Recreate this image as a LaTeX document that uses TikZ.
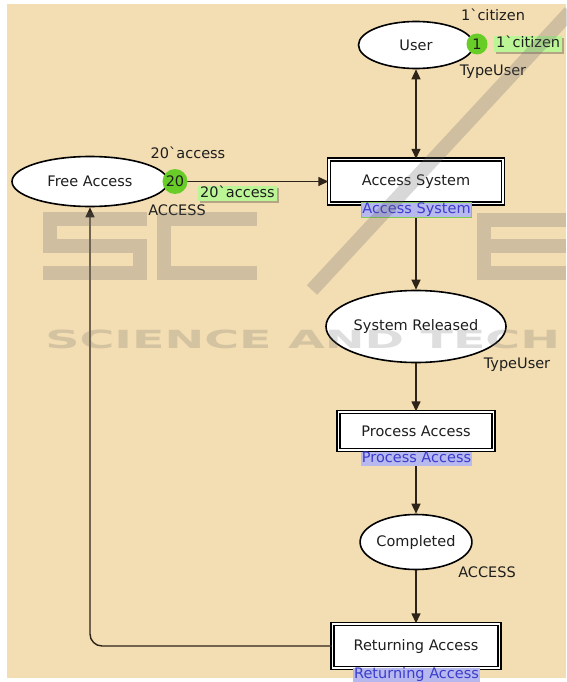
\documentclass[tikz,border=0pt]{standalone}
\usepackage{fontspec}
\setmainfont{DejaVu Sans}[Ligatures=TeXOff]
\usetikzlibrary{arrows.meta,shapes.geometric,shadows}

\definecolor{canvas}{RGB}{243,221,178}
\definecolor{arcc}{RGB}{45,35,25}
\definecolor{tokgreen}{RGB}{105,205,40}
\definecolor{markgreen}{RGB}{188,245,150}
\definecolor{tagfill}{RGB}{182,184,238}
\definecolor{tagtext}{RGB}{60,60,205}
\definecolor{tagglow}{RGB}{130,205,80}
\definecolor{inkc}{RGB}{30,30,30}
\definecolor{wmark}{RGB}{105,105,105}

\begin{document}
\begin{tikzpicture}[x=1pt,y=-1pt,
  every node/.style={font=\fontsize{14.5}{17}\selectfont, text=inkc},
  place/.style={ellipse, draw=black, line width=1.6pt, fill=white, inner sep=0pt},
  trans/.style={rectangle, draw=black, line width=1.4pt, double=white,
    double distance=1.8pt, fill=white, inner sep=0pt},
  tag/.style={rectangle, fill=tagfill, text=tagtext, inner xsep=1pt, inner ysep=0.5pt,
    text height=10.5pt, text depth=2.8pt},
  token/.style={circle, fill=tokgreen, inner sep=0pt},
  marking/.style={rectangle, fill=markgreen, inner xsep=2pt, inner ysep=1pt,
    text height=10.5pt, text depth=3pt,
    drop shadow={shadow xshift=2pt, shadow yshift=-2pt, fill=black, opacity=0.25}},
  arc/.style={draw=arcc, line width=1.4pt},
  tip/.tip={Triangle[length=10pt,width=9pt]},
  wm/.style={draw=wmark, line width=14pt, opacity=0.26}
]
% canvas
\useasboundingbox (0,0) rectangle (566,682);
\fill[white] (0,0) rectangle (566,682);
\fill[canvas] (7,4) rectangle (566,678);

% places
\node[place, minimum width=115pt, minimum height=47pt] (user) at (416,45) {User};
\node[place, minimum width=156pt, minimum height=50pt] (free) at (90,181.5) {Free Access};
\node[place, minimum width=180pt, minimum height=72pt] (sysrel) at (416,326.5) {System Released};
\node[place, minimum width=107pt, minimum height=55pt] (done) at (416,542) {Completed};

% transitions
\node[trans, minimum width=174pt, minimum height=44pt] (acc) at (416,181.5) {Access System};
\node[trans, minimum width=155pt, minimum height=38pt] (proc) at (416,431) {Process Access};
\node[trans, minimum width=167pt, minimum height=44pt] (ret) at (416,646) {Returning Access};

% arcs
\draw[arc, tip-tip] (user.south) -- (acc.north);
\draw[arc, -tip] (free.east) -- (acc.west);
\draw[arc, -tip] (acc.south) -- (sysrel.north);
\draw[arc, -tip] (sysrel.south) -- (proc.north);
\draw[arc, -tip] (proc.south) -- (done.north);
\draw[arc, -tip] (done.south) -- (ret.north);
\draw[arc, -tip, rounded corners=12pt] (ret.west) -| (free.south);

% subpage tags
\node[tag, draw=tagglow, line width=1.2pt] (acctag) at (416.5,210) {Access System};
\node[tag] (proctag) at (416.5,459) {Process Access};
\node[tag] (rettag) at (416.5,675) {Returning Access};

% tokens and current markings
\node[token, minimum size=21pt] (tokuser) at (477,44) {1};
\node[token, minimum size=25pt] (tokfree) at (175,181.5) {20};
\node[marking, anchor=west] (markuser) at (494,44) {1`citizen};
\node[marking] (markfree) at (237.5,193.5) {20`access};

% inscriptions
\node (initu) at (493,15) {1`citizen};
\node (typu) at (493,72) {TypeUser};
\node (initf) at (188,153) {20`access};
\node (typf) at (177,210) {ACCESS};
\node (typs) at (517,365) {TypeUser};
\node (typc) at (487,572) {ACCESS};

% publisher watermark
\draw[wm] (147,219) -- (50,219) -- (50,246) -- (140,246) -- (140,273) -- (43,273);
\draw[wm] (257,219) -- (164,219) -- (164,273) -- (257,273);
\draw[wm] (570,12) -- (312,290);
\draw[wm] (566,220) -- (484,220) -- (484,273) -- (566,273);
\draw[wm] (491,246) -- (566,246);
\node[anchor=west, xscale=1.9, text=wmark, opacity=0.22, inner sep=0pt,
  font=\fontsize{25}{25}\selectfont\bfseries] (wmtext) at (45,339) {SCIENCE AND TECH};
\end{tikzpicture}
\end{document}
